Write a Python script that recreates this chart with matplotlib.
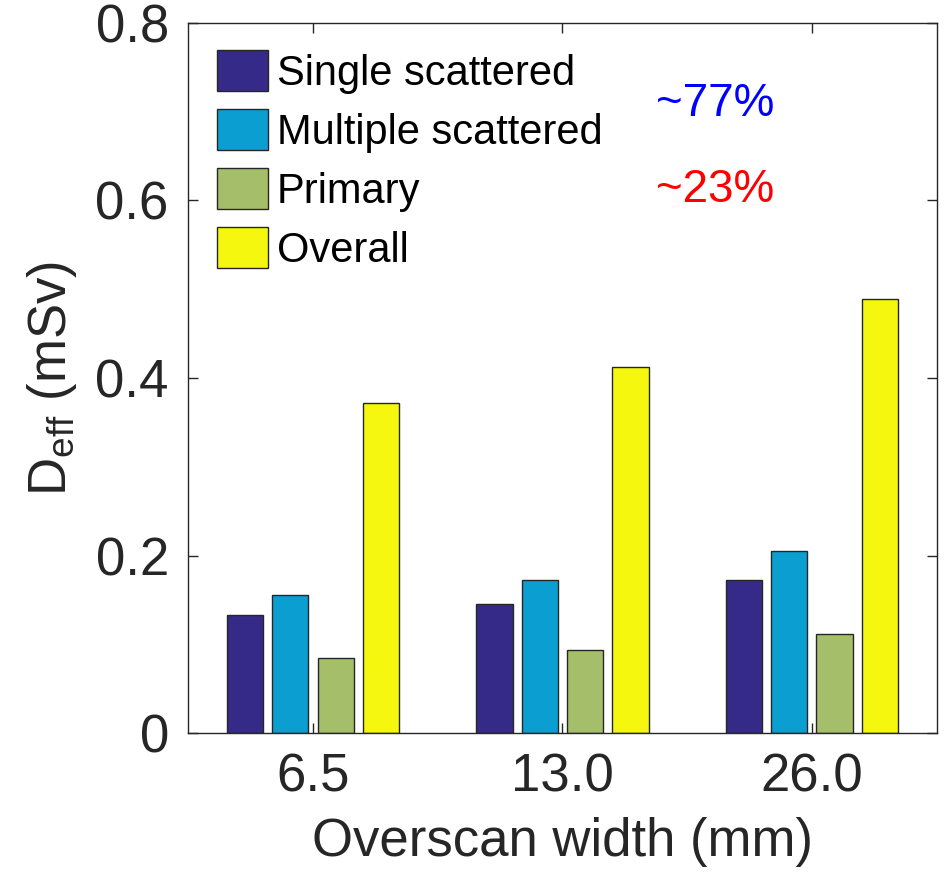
import numpy as np
import matplotlib.pyplot as plt
from matplotlib.patches import Patch

# data
widths = ['6.5', '13.0', '26.0']
single = [0.133, 0.145, 0.173]
multiple = [0.156, 0.173, 0.205]
primary = [0.085, 0.094, 0.112]
overall = [0.372, 0.412, 0.489]
series_names = ['Single scattered', 'Multiple scattered', 'Primary', 'Overall']
colors = ['#352a87', '#0a9fd0', '#a5be6a', '#f5f70f']

plt.rcParams['font.family'] = ['Liberation Sans Narrow', 'Liberation Sans', 'DejaVu Sans']

fig = plt.figure(figsize=(9.46, 8.74), dpi=100)
ax = fig.add_axes([0.199, 0.161, 0.791, 0.813])

x = np.arange(1, len(widths) + 1)
group_w = 4 / 5.5
step = group_w / 4
bw = step * 0.8
for i, vals in enumerate([single, multiple, primary, overall]):
    ax.bar(x + (i - 1.5) * step, vals, bw, color=colors[i], edgecolor='#262626', linewidth=1)

ax.set_xlim(0.5, 3.5)
ax.set_ylim(0, 0.8)
ax.set_xticks(x)
ax.set_xticklabels(widths)
ax.set_yticks([0, 0.2, 0.4, 0.6, 0.8])
ax.set_yticklabels(['0', '0.2', '0.4', '0.6', '0.8'])
ax.tick_params(direction='in', top=True, right=True, labelsize=38, colors='#262626',
               length=7, width=1, pad=14)
for s in ax.spines.values():
    s.set_color('#262626')
    s.set_linewidth(1)

ax.set_xlabel('Overscan width (mm)', fontsize=38, color='#262626', labelpad=10)
ax.set_ylabel(r'D$_{\mathregular{eff}}$ (mSv)', fontsize=38, color='#262626', labelpad=12)

handles = [Patch(facecolor=c, edgecolor='#262626', linewidth=1) for c in colors]
ax.legend(handles, series_names, loc='upper left', bbox_to_anchor=(0.005, 0.997),
          frameon=False, fontsize=30, handlelength=1.22, handleheight=1.16,
          handletextpad=0.22, labelspacing=0.36, borderaxespad=0.2)

ax.text(0.625, 0.885, '~77%', transform=ax.transAxes, color='#0000ff', fontsize=33, va='center')
ax.text(0.625, 0.765, '~23%', transform=ax.transAxes, color='#ff0000', fontsize=33, va='center')

fig.savefig('out.png', dpi=100)
